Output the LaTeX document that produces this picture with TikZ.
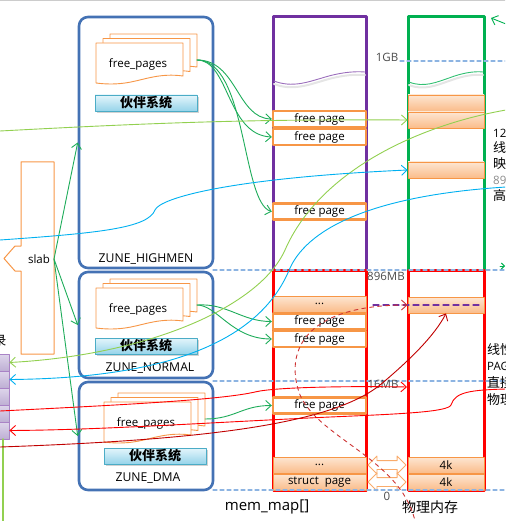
\documentclass[tikz,border=0pt]{standalone}
\usepackage{fontspec}
\setmainfont{Open Sans}
\newfontfamily\cjk{Noto Sans CJK SC}
\usetikzlibrary{arrows.meta,shapes.arrows,shadows}

\definecolor{zoneblue}{RGB}{68,114,180}
\definecolor{pageorange}{RGB}{247,150,70}
\definecolor{celltop}{RGB}{253,230,210}
\definecolor{cellbot}{RGB}{250,188,138}
\definecolor{memgreen}{RGB}{0,176,80}
\definecolor{linegreen}{RGB}{30,172,90}
\definecolor{lightgreen}{RGB}{146,208,80}
\definecolor{skyblue}{RGB}{0,176,240}
\definecolor{mempurple}{RGB}{112,48,160}
\definecolor{darkred}{RGB}{192,0,0}
\definecolor{dashblue}{RGB}{141,180,226}
\definecolor{buddyline}{RGB}{75,172,198}
\definecolor{buddytop}{RGB}{228,245,251}
\definecolor{buddybot}{RGB}{150,212,234}
\definecolor{lefttop}{RGB}{222,214,235}
\definecolor{leftbot}{RGB}{190,175,212}

\tikzset{
	zone/.style={draw=zoneblue, line width=2.6pt, rounded corners=9pt, minimum width=134pt, inner sep=0pt},
	zonename/.style={font=\fontsize{12.2}{13}\selectfont},
	sheet/.style={draw=pageorange, fill=white, line width=0.9pt},
	buddy/.style={draw=buddyline, line width=0.8pt, top color=buddytop, bottom color=buddybot, minimum width=102pt, minimum height=16pt, inner sep=0pt, drop shadow={shadow xshift=1.5pt, shadow yshift=-1.8pt, fill=black!35}, font=\cjk\bfseries\fontsize{13}{13}\selectfont},
	freepage/.style={draw=pageorange, fill=white, line width=2.4pt, minimum width=93pt, minimum height=16pt, inner sep=0pt},
	memcell/.style={draw=pageorange, line width=0.8pt, top color=celltop, bottom color=cellbot, minimum height=16pt, inner sep=0pt},
	leftcell/.style={draw=mempurple!60, line width=0.8pt, top color=lefttop, bottom color=leftbot, minimum width=14pt, minimum height=17pt, inner sep=0pt},
	level/.style={draw=dashblue, line width=1.2pt, dash pattern=on 4pt off 3pt},
	levellabel/.style={text=black!70, inner sep=0pt},
	flow/.style={->, line width=0.9pt},
	dblarrow/.style={double arrow, draw=pageorange!80, fill=white, line width=0.9pt, minimum height=38pt, minimum width=17pt, double arrow head extend=4.5pt, inner sep=4pt},
	cjklabel/.style={font=\cjk\fontsize{13}{13}\selectfont, anchor=west, inner sep=0pt},
	fpstack/.pic={
		\foreach \d in {2,1,0}
			\draw[sheet, shift={(7*\d,-4.5*\d)}] (0,40) -- (0,0) -- (87,0) -- (87,33) .. controls (65,30) and (50,36) .. (35,39) .. controls (20,42) and (8,41) .. (0,40) -- cycle;
		\node (-txt) at (42,21) {free\_pages};
		\coordinate (-out) at (101,17);
	}
}

\begin{document}
\begin{tikzpicture}[x=1pt, y=-1pt, font=\fontsize{11.5}{13}\selectfont, line join=round, line cap=round, >={Straight Barb[length=5.5pt,width=10pt]}]
	\useasboundingbox (0,0) rectangle (505,521);
	\clip (0,0) rectangle (505,521);
	\draw[black!20, line width=0.8pt] (0,0.5) -- (505,0.5);
	
	% Zones
	\node[zone, minimum height=251pt] (high) at (146,142.5) {};
	\node[zone, minimum height=106pt] (normal) at (146,325) {};
	\node[zone, minimum height=108pt] (dma) at (146,436) {};
	\pic (hfp) at (96,43) {fpstack};
	\pic (nfp) at (96,288) {fpstack};
	\pic (dfp) at (104,402) {fpstack};
	\node[buddy] (hbuddy) at (146,103) {伙伴系统};
	\node[buddy] (nbuddy) at (146,346) {伙伴系统};
	\node[buddy] (dbuddy) at (155,456) {伙伴系统};
	\node[zonename] (hname) at (146,259) {ZUNE\_HIGHMEN};
	\node[zonename] (nname) at (150,368) {ZUNE\_NORMAL};
	\node[zonename] (dname) at (148,478) {ZUNE\_DMA};
	
	% Slab
	\draw[pageorange, line width=1pt] (21,354) -- (21,271) -- (15,271) -- (4,258.5) -- (15,246) -- (21,246) -- (21,162) -- (54,162) -- (54,354) -- cycle;
	\node (slab) at (39,259) {slab};
	\coordinate (slabtip) at (54,259);
	
	% Left table
	\node[font=\cjk\fontsize{13}{13}\selectfont, anchor=east, inner sep=0pt] (tbl) at (6.5,341) {录};
	\foreach \i/\y in {1/362.5,2/379.5,3/396.5,4/413.5,5/430.5}
		\node[leftcell] (lb\i) at (2,\y) {};
	\draw[lightgreen, line width=1.5pt] (3,439) -- (3,521);
	
	% Columns
	\draw[mempurple, line width=3pt] (273,270) -- (273,17) -- (366,17) -- (366,270);
	\draw[memgreen, line width=3pt] (408,270) -- (408,17) -- (484,17) -- (484,270);
	\draw[red, line width=3pt] (273,270) rectangle (366,490);
	\draw[red, line width=3pt] (408,270) rectangle (484,490);
	\draw[black!10, line width=2pt] (274,84) .. controls (292,91) and (308,85) .. (322,81) .. controls (338,76) and (352,74) .. (365,75);
	\draw[mempurple!70, line width=0.9pt] (274,81) .. controls (292,88) and (308,82) .. (322,78) .. controls (338,73) and (352,71) .. (365,72);
	\draw[black!10, line width=2pt] (409,85) .. controls (424,91) and (437,85) .. (449,81) .. controls (462,76) and (474,74) .. (483,75);
	\draw[memgreen!80, line width=0.9pt] (409,82) .. controls (424,88) and (437,82) .. (449,78) .. controls (462,73) and (474,71) .. (483,72);
	
	% mem_map cells
	\node[freepage] (fp1) at (319.5,119) {free page};
	\node[freepage] (fp2) at (319.5,137) {free page};
	\node[freepage] (fp3) at (319.5,211.5) {free page};
	\node[memcell, minimum width=93pt] (mdots1) at (319.5,304) {...};
	\node[freepage] (fp4) at (319.5,321.5) {free page};
	\node[freepage] (fp5) at (319.5,339) {free page};
	\node[freepage] (fp6) at (319.5,405.5) {free page};
	\node[memcell, minimum width=93pt] (mdots2) at (319.5,465) {...};
	\node[memcell, minimum width=93pt] (spage) at (319.5,482) {struct~ page};
	
	% Physical cells
	\node[memcell, minimum width=76pt] (pb1) at (446,103) {};
	\node[memcell, minimum width=76pt] (pb2) at (446,120) {};
	\node[memcell, minimum width=76pt] (pb3) at (446,170) {};
	\node[memcell, minimum width=76pt] (pb4) at (446,305) {};
	\node[memcell, minimum width=76pt] (k1) at (446,465) {4k};
	\node[memcell, minimum width=76pt] (k2) at (446,482) {4k};
	\node[dblarrow] (ar1) at (387,465) {};
	\node[dblarrow] (ar2) at (387,482) {};
	\draw[mempurple, line width=1.2pt, dash pattern=on 6pt off 4pt] (373,305) -- ([xshift=-2pt]pb4.east);
	
	% Levels
	\draw[level] (400,61) -- (505,61);
	\draw[level] (213,270) -- (505,270);
	\draw[level] (213,381) -- (505,381);
	\draw[level] (213,490) -- (505,490);
	\node[levellabel] (l1g) at (387,57) {1GB};
	\node[levellabel] (l896) at (386,276) {896MB};
	\node[levellabel] (l16) at (383,384) {16MB};
	\node[levellabel] (l0) at (387,496) {0};
	\node[font=\fontsize{15}{15}\selectfont] (mmap) at (267,507) {mem\_map[]};
	\node[font=\cjk\fontsize{14}{14}\selectfont] (phys) at (430,507) {物理内存};
	
	% Right side texts
	\node[anchor=west, inner sep=0pt] (t128) at (493,133) {128MB};
	\node[cjklabel] (t1) at (493,148) {线性地址};
	\node[cjklabel] (t2) at (493,164) {映射};
	\node[anchor=west, inner sep=0pt, text=black!45] (t896) at (493,180) {896MB};
	\node[cjklabel] (t3) at (493,196) {高端内存};
	\node[cjklabel] (t4) at (487,350) {线性地址};
	\node[anchor=west, inner sep=0pt] (t5) at (487,367) {PAGE\_OFFSET};
	\node[cjklabel] (t6) at (487,383) {直接映射};
	\node[cjklabel] (t7) at (487,400) {物理内存};
	
	% Free lists
	\draw[flow, linegreen] (hfp-out) .. controls +(40,0) and +(-35,-1) .. (fp1.west);
	\draw[flow, linegreen] (hfp-out) .. controls +(32,0) and +(-45,-2) .. (fp2.west);
	\draw[flow, linegreen] (hfp-out) .. controls +(50,0) and +(-30,-8) .. (fp3.west);
	\draw[flow, linegreen] (nfp-out) .. controls +(30,-2) and +(-30,0) .. (fp4.west);
	\draw[flow, linegreen] (nfp-out) .. controls +(20,0) and +(-40,0) .. (fp5.west);
	\draw[flow, linegreen] (dfp-out) .. controls +(30,0) and +(-30,0) .. (fp6.west);
	\draw[flow, linegreen] (slabtip) -- (high.west);
	\draw[flow, linegreen] (slabtip) -- (normal.west);
	\draw[flow, linegreen] (slabtip) -- (dma.west);
	
	% Mappings
	\coordinate (lgL) at (0,131);
	\coordinate (lgR) at (506,110);
	\coordinate (bL) at (0,240);
	\coordinate (bR) at (506,187);
	\coordinate (rL) at (0,411);
	\coordinate (rR) at (506,389);
	\coordinate (drL) at (0,447);
	\coordinate (dashS) at (416,526);
	\coordinate (phys16) at (407,387);
	\draw[flow, lightgreen] (lgL) .. controls (150,123) and (250,119) .. (pb2.west);
	\draw[flow, lightgreen] (lgR) .. controls (420,125) and (320,170) .. (285,250) .. controls (260,306) and (150,355) .. (lb1.east);
	\draw[flow, skyblue] (bL) .. controls (100,233) and (148,228) .. (155,210) .. controls (160,198) and (230,178) .. (pb3.west);
	\draw[flow, skyblue] (bR) .. controls (380,195) and (310,225) .. (290,268) .. controls (265,330) and (190,378) .. (lb2.east);
	\draw[flow, red] (rL) .. controls (120,405) and (220,400) .. (255,392) .. controls (275,387) and (350,386) .. (phys16);
	\draw[flow, red] (rR) .. controls (470,390) and (455,392) .. (451,405) .. controls (448,412) and (400,414) .. (330,417) .. controls (200,423) and (100,430) .. (lb5.east);
	\draw[flow, darkred] (drL) .. controls (200,440) and (330,425) .. (380,385) .. controls (410,360) and (435,335) .. (pb4.south);
	\draw[flow, darkred!80, dash pattern=on 4pt off 4pt] (dashS) .. controls (405,460) and (320,440) .. (300,395) .. controls (285,355) and (300,305) .. (pb4.west);
	\coordinate (gR) at (506,24);
	\coordinate (gT) at (491,18);
	\draw[flow, memgreen] (gR) -- (gT);
	\coordinate (g2a) at (500,266);
	\coordinate (g2b) at (505,266);
	\draw[memgreen, line width=0.9pt, -{Straight Barb[length=3pt,width=6pt]}] (g2a) -- (g2b);
\end{tikzpicture}
\end{document}
